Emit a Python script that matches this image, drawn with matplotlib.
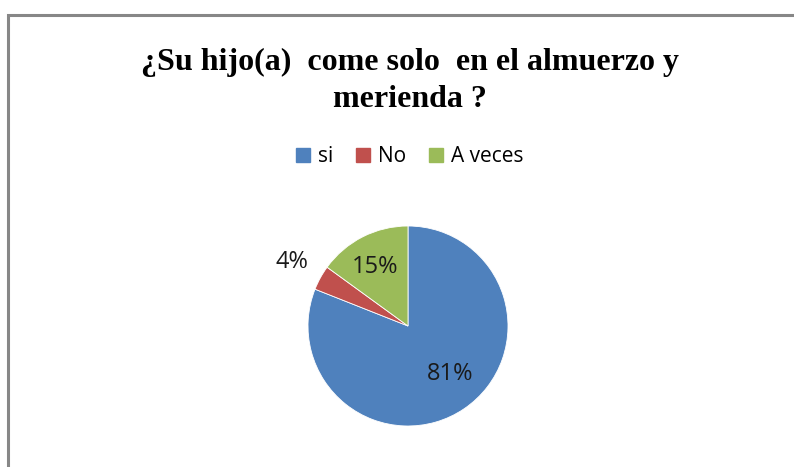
import numpy as np
import matplotlib.pyplot as plt

categories = ["si", "No", "A veces"]
values = [81, 4, 15]
colors = ["#4F81BD", "#C0504D", "#9BBB59"]
title = "¿Su hijo(a)  come solo  en el almuerzo y\nmerienda ?"

# label placement (radius in pie units, angle nudge in degrees)
label_r = [0.64, 1.32, 0.67]
label_nudge = [7, 0, 2]

W, H = 794, 467
fig = plt.figure(figsize=(W / 100, H / 100), dpi=100)

# chart area frame, clipped at right and bottom like the screenshot
frame = plt.Rectangle((8 / W, -0.1), 1.1, (H - 15) / H + 0.1, transform=fig.transFigure,
                      fill=False, edgecolor="#878787", linewidth=2.2)
fig.patches.append(frame)

fig.text(410 / W, (H - 81) / H, title, ha="center", va="center", fontsize=23,
         fontweight="bold", family="Liberation Serif", linespacing=1.35)

# pie axes
cx, cy, r = 408, 326, 100
ax = fig.add_axes([(cx - r) / W, (H - cy - r) / H, 2 * r / W, 2 * r / H])
wedges, _ = ax.pie(values, colors=colors, startangle=90, counterclock=False,
                   radius=1, wedgeprops=dict(edgecolor="white", linewidth=0.6))
ax.set_xlim(-1, 1)
ax.set_ylim(-1, 1)
ax.set_aspect("equal")
ax.axis("off")

total = sum(values)
for w, v, lr, nd in zip(wedges, values, label_r, label_nudge):
    mid = np.deg2rad((w.theta1 + w.theta2) / 2 + nd)
    ax.text(lr * np.cos(mid), lr * np.sin(mid), f"{round(100 * v / total)}%",
            ha="center", va="center", fontsize=17, family="Open Sans", color="#1a1a1a")

handles = [plt.Rectangle((0, 0), 1, 1, color=c) for c in colors]
fig.legend(handles, categories, loc="center", bbox_to_anchor=(410 / W, (H - 157) / H),
           ncol=3, frameon=False, prop={"family": "Open Sans", "size": 15},
           handlelength=0.65, handleheight=0.65, handletextpad=0.4, columnspacing=1.1)

fig.savefig("out.png", dpi=100)
